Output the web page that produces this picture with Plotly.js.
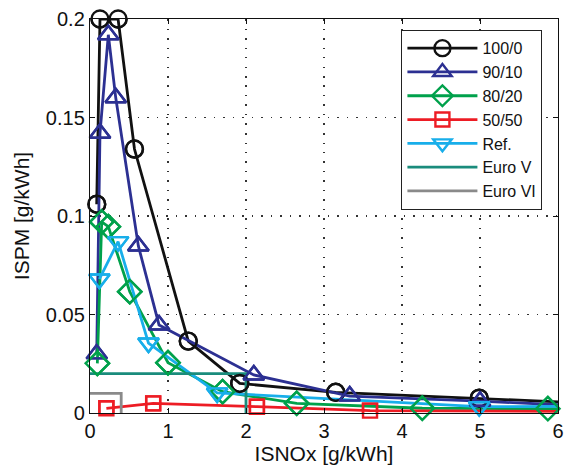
<!DOCTYPE html>
<html>
<head>
<meta charset="utf-8">
<script src="https://cdn.plot.ly/plotly-3.0.1.min.js"></script>
<style>html,body{margin:0;padding:0;background:#fff;}#chart{width:564px;height:470px;}</style>
</head>
<body>
<div id="chart"></div>
<script>
// ISNOx [g/kWh] vs ISPM [g/kWh]
const x100_0 = [0.086, 0.128, 0.36, 0.57, 1.26, 1.92, 3.15, 4.99, 6.5];
const y100_0 = [0.106, 0.200, 0.200, 0.134, 0.0365, 0.015, 0.0105, 0.0075, 0.0048];

const x90_10 = [0.086, 0.128, 0.235, 0.33, 0.62, 0.885, 2.1, 3.33, 5.0, 6.5];
const y90_10 = [0.030, 0.142, 0.192, 0.160, 0.0848, 0.0447, 0.0193, 0.0086, 0.006, 0.0033];

const x80_20 = [0.094, 0.15, 0.235, 0.51, 1.0, 1.70, 2.65, 4.26, 5.87, 6.5];
const y80_20 = [0.0252, 0.097, 0.0946, 0.0616, 0.0255, 0.0108, 0.0049, 0.0024, 0.0022, 0.0022];

const x50_50 = [0.21, 0.81, 2.14, 3.59, 6.5];
const y50_50 = [0.0024, 0.0049, 0.0032, 0.0012, 0.0008];

const xRef = [0.12, 0.36, 0.75, 1.63, 4.99, 6.5];
const yRef = [0.068, 0.087, 0.0355, 0.0102, 0.0032, 0.0034];

const xEuroV = [0, 2, 2];
const yEuroV = [0.02, 0.02, 0];
const xEuroVI = [0, 0.4, 0.4];
const yEuroVI = [0.01, 0.01, 0];

const xTicks = [0, 1, 2, 3, 4, 5, 6];
const yTicks = [0, 0.05, 0.1, 0.15, 0.2];
const yTickText = ['0', '0.05', '0.1', '0.15', '0.2'];

const X_MAX = 6;
const lw = 2.8;
const traces = [];
const markerTraces = [];
function series(name, x, y, color, symbol, size) {
  const mk = {symbol: symbol, size: size, color: color, line: {color: color, width: 2.4}};
  traces.push({
    type: 'scatter', mode: 'lines+markers', name: name, x: x, y: y,
    line: {color: color, width: lw}, marker: mk, cliponaxis: true
  });
  const xi = [], yi = [];
  x.forEach((v, i) => { if (v <= X_MAX) { xi.push(v); yi.push(y[i]); } });
  markerTraces.push({
    type: 'scatter', mode: 'markers', name: name, x: xi, y: yi, showlegend: false,
    marker: mk, cliponaxis: false
  });
}
series('100/0', x100_0, y100_0, '#111111', 'circle-open', 17);
series('90/10', x90_10, y90_10, '#2c3092', 'triangle-up-open', 18);
series('80/20', x80_20, y80_20, '#00a14b', 'diamond-open', 18);
series('50/50', x50_50, y50_50, '#ed1c24', 'square-open', 14);
series('Ref.', xRef, yRef, '#18aeea', 'triangle-down-open', 18);
traces.push({type: 'scatter', mode: 'lines', name: 'Euro V', x: xEuroV, y: yEuroV, line: {color: '#1a8c7c', width: lw}});
traces.push({type: 'scatter', mode: 'lines', name: 'Euro VI', x: xEuroVI, y: yEuroVI, line: {color: '#8a8a8a', width: lw}});

const font = {family: '"Liberation Sans", Arial, sans-serif', color: '#111', size: 20};
const layout = {
  width: 564, height: 470,
  margin: {l: 90, r: 6, t: 19, b: 57, pad: 0},
  paper_bgcolor: '#ffffff', plot_bgcolor: '#ffffff',
  font: font,
  showlegend: true,
  legend: {
    x: 0.665, y: 0.972, xanchor: 'left', yanchor: 'top',
    bgcolor: '#ffffff', bordercolor: '#222', borderwidth: 1.2,
    font: {family: font.family, size: 16, color: '#111'},
    itemwidth: 70, tracegroupgap: 0
  },
  xaxis: {
    range: [0, 6], tickvals: xTicks, ticktext: xTicks.map(String),
    showgrid: true, gridcolor: '#333', griddash: '1.5px,8px', gridwidth: 1.2,
    zeroline: false, showline: true, linecolor: '#111', linewidth: 1.2, mirror: 'ticks',
    ticks: 'inside', ticklen: 5, tickcolor: '#111',
    tickfont: {size: 20},
    title: {text: 'ISNOx [g/kWh]', font: {size: 21}, standoff: 4}
  },
  yaxis: {
    range: [0, 0.2], tickvals: yTicks, ticktext: yTickText,
    showgrid: true, gridcolor: '#333', griddash: '1.5px,8px', gridwidth: 1.2,
    zeroline: false, showline: true, linecolor: '#111', linewidth: 1.2, mirror: 'ticks',
    ticks: 'inside', ticklen: 5, tickcolor: '#111',
    tickfont: {size: 20},
    title: {text: 'ISPM [g/kWh]', font: {size: 21}, standoff: 10}
  }
};
Plotly.newPlot('chart', traces.concat(markerTraces), layout, {displayModeBar: false, staticPlot: true});
</script>
</body>
</html>
